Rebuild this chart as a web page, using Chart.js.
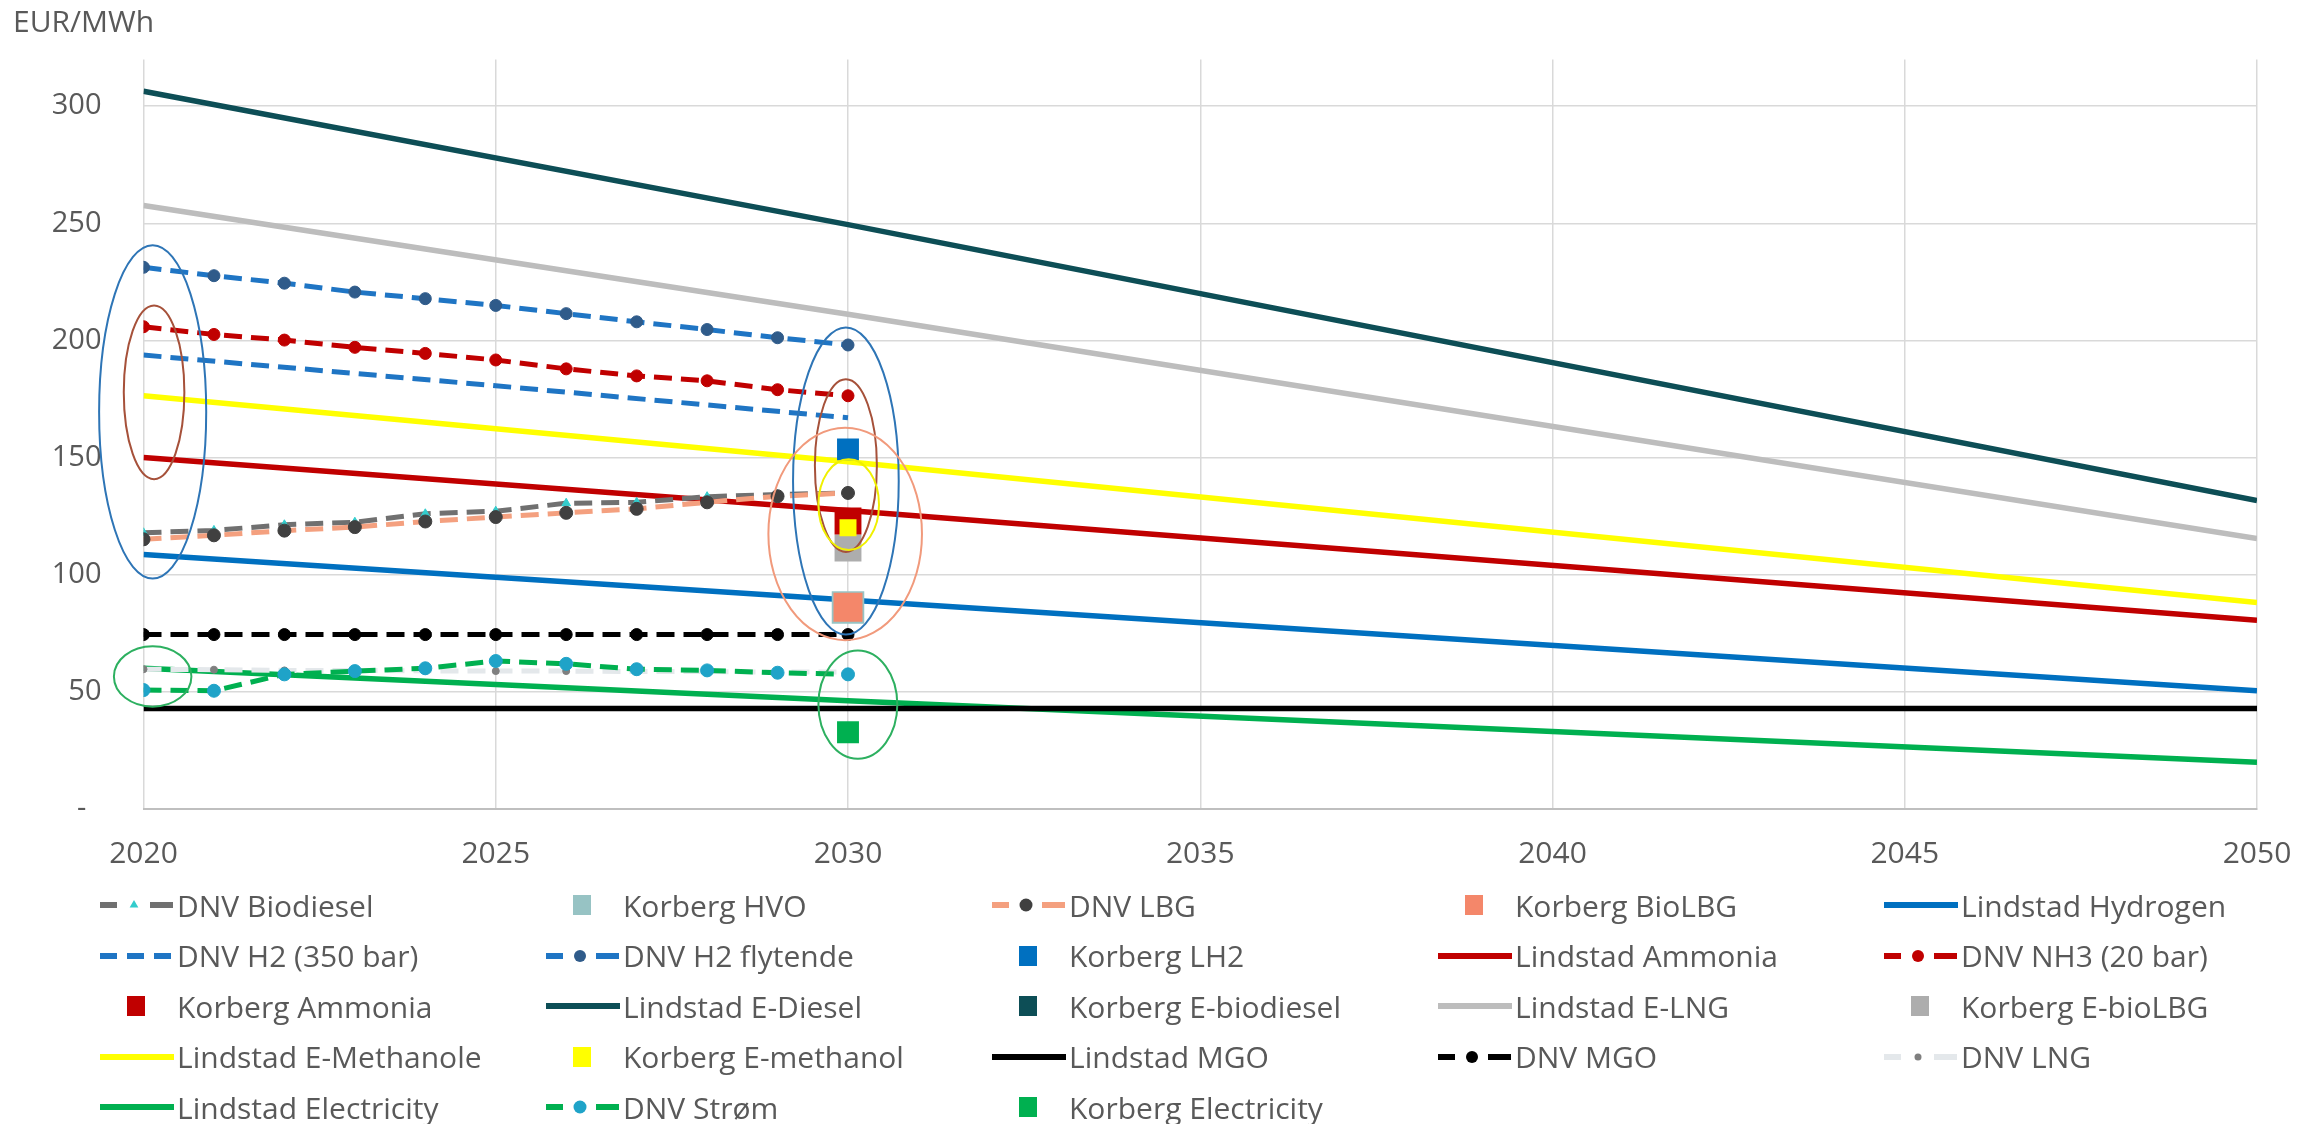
<!DOCTYPE html>
<html><head><meta charset="utf-8">
<script src="https://cdn.jsdelivr.net/npm/chart.js@4/dist/chart.umd.min.js"></script>
<style>
html,body{margin:0;padding:0;background:#fff;}
#wrap{position:relative;width:2320px;height:1124px;overflow:hidden;background:#fff;}
#c{position:absolute;left:0;top:0;}
#unit{position:absolute;left:13px;top:1px;font-family:'Open Sans';font-size:30px;color:#595959;line-height:40px;}
#legend{position:absolute;left:0;top:0;width:2320px;height:1124px;pointer-events:none;}
.li{position:absolute;height:44px;display:flex;align-items:center;font-family:'Open Sans';font-size:30px;color:#595959;white-space:nowrap;}
.li canvas{display:block;margin-right:2px;}
</style></head>
<body>
<div id="wrap">
  <canvas id="c" width="2320" height="1124"></canvas>
  <div id="unit">EUR/MWh</div>
  <div id="legend"></div>
</div>
<script>
// ---------- categories / ticks ----------
const dnvYears = [2020, 2021, 2022, 2023, 2024, 2025, 2026, 2027, 2028, 2029, 2030];
const dnvH2350Years = [2020, 2025, 2030];
const lindstadYears = [2020, 2030, 2050];
const korbergYear = 2030;
const xTickValues = [2020, 2025, 2030, 2035, 2040, 2045, 2050];
const yTickValues = [0, 50, 100, 150, 200, 250, 300];

// ---------- Lindstad (EUR/MWh) ----------
const lindstadHydrogen    = [108.5, 89.1, 50.3];
const lindstadAmmonia     = [149.9, 127.3, 80.4];
const lindstadEDiesel     = [306.4, 249.4, 131.6];
const lindstadELNG        = [257.6, 211.1, 115.3];
const lindstadEMethanole  = [176.3, 148.1, 88.0];
const lindstadMGO         = [42.7, 42.7, 42.7];
const lindstadElectricity = [59.9, 46.0, 19.8];

// ---------- DNV (EUR/MWh) ----------
const dnvBiodiesel  = [117.8, 118.8, 121.2, 122.3, 125.9, 127.0, 130.4, 130.8, 133.2, 134.1, 134.8];
const dnvLBG        = [115.0, 116.7, 118.7, 120.2, 122.6, 124.5, 126.3, 128.0, 130.8, 133.4, 134.8];
const dnvH2350      = [193.7, 180.6, 166.9];
const dnvH2Flytende = [231.2, 227.6, 224.4, 220.6, 217.8, 214.9, 211.4, 207.9, 204.6, 201.1, 198.0];
const dnvNH3        = [205.8, 202.5, 200.1, 197.0, 194.4, 191.6, 187.8, 184.8, 182.7, 178.9, 176.3];
const dnvMGO        = [74.3, 74.3, 74.3, 74.3, 74.3, 74.3, 74.3, 74.3, 74.3, 74.3, 74.3];
const dnvLNG        = [59.5, 59.3, 59.0, 59.0, 58.8, 58.7, 58.7, 58.5, 58.5, 58.3, 58.3];
const dnvStrom      = [50.6, 50.3, 57.3, 58.7, 59.9, 63.0, 61.8, 59.5, 59.0, 58.0, 57.3];

// ---------- Korberg 2030 (EUR/MWh) ----------
const korbergHVO         = 85.9;
const korbergBioLBG      = 86.0;
const korbergLH2         = 153.4;
const korbergAmmonia     = 122.8;
const korbergEBiodiesel  = 111.3;
const korbergEBioLBG     = 111.3;
const korbergEMethanol   = 119.9;
const korbergElectricity = 32.6;

// ---------- highlight rings (data units) ----------
const highlightRings = [
  {year: 2020.13, value: 169.4, rx: 0.76, ry: 71.2, color: '#2E75B6'},
  {year: 2020.15, value: 177.8, rx: 0.43, ry: 37.1, color: '#A6513A'},
  {year: 2020.13, value: 56.4,  rx: 0.55, ry: 12.9, color: '#2DB060'},
  {year: 2029.97, value: 139.9, rx: 0.75, ry: 65.6, color: '#2E75B6'},
  {year: 2029.97, value: 146.5, rx: 0.44, ry: 36.9, color: '#A6513A'},
  {year: 2029.96, value: 117.3, rx: 1.09, ry: 45.4, color: '#F19A7C'},
  {year: 2030.01, value: 129.8, rx: 0.43, ry: 19.4, color: '#F0F000'},
  {year: 2030.14, value: 44.4,  rx: 0.56, ry: 23.1, color: '#2DB060'}
];

const legendRows = [
  ['DNV Biodiesel', 'Korberg HVO', 'DNV LBG', 'Korberg BioLBG', 'Lindstad Hydrogen'],
  ['DNV H2 (350 bar)', 'DNV H2 flytende', 'Korberg LH2', 'Lindstad Ammonia', 'DNV NH3 (20 bar)'],
  ['Korberg Ammonia', 'Lindstad E-Diesel', 'Korberg E-biodiesel', 'Lindstad E-LNG', 'Korberg E-bioLBG'],
  ['Lindstad E-Methanole', 'Korberg E-methanol', 'Lindstad MGO', 'DNV MGO', 'DNV LNG'],
  ['Lindstad Electricity', 'DNV Strøm', 'Korberg Electricity']
];

// ---------- dataset builders ----------
const pts = (xs, ys) => xs.map((x, i) => ({x: x, y: ys[i]}));

function lindstad(label, ys, color) {
  return {label, data: pts(lindstadYears, ys), borderColor: color, backgroundColor: color,
    borderWidth: 5.5, pointRadius: 0, pointHoverRadius: 0, order: 30, legendKind: 'line'};
}
function dnv(label, xs, ys, color, markerColor, markerStyle, markerRadius, order) {
  return {label, data: pts(xs, ys), borderColor: color, backgroundColor: markerColor,
    borderWidth: 5, borderDash: [18, 9], borderCapStyle: 'butt',
    pointStyle: markerStyle || 'circle', pointRadius: markerRadius, pointHoverRadius: markerRadius,
    pointBorderColor: markerColor, pointBackgroundColor: markerColor, pointBorderWidth: 1,
    order: order || 20, legendKind: markerRadius > 0 ? 'dashMarker' : 'dash'};
}
function korberg(label, y, color, radius, order) {
  return {label, data: [{x: korbergYear, y: y}], showLine: false, pointStyle: 'rect',
    pointRadius: radius, pointHoverRadius: radius, backgroundColor: color, borderColor: color,
    pointBackgroundColor: color, pointBorderColor: color, pointBorderWidth: 0,
    order: order, legendKind: 'square'};
}

const datasets = [
  lindstad('Lindstad E-Diesel', lindstadEDiesel, '#0D4E56'),
  lindstad('Lindstad E-LNG', lindstadELNG, '#BDBDBD'),
  lindstad('Lindstad E-Methanole', lindstadEMethanole, '#FFFF00'),
  lindstad('Lindstad Ammonia', lindstadAmmonia, '#C00000'),
  lindstad('Lindstad Hydrogen', lindstadHydrogen, '#0070C0'),
  lindstad('Lindstad MGO', lindstadMGO, '#000000'),
  lindstad('Lindstad Electricity', lindstadElectricity, '#00B050'),

  dnv('DNV LNG', dnvYears, dnvLNG, '#E4E8EB', '#7F7F7F', 'circle', 3.5, 26),
  dnv('DNV Biodiesel', dnvYears, dnvBiodiesel, '#707070', '#33CCCC', 'triangle', 5, 22),
  dnv('DNV LBG', dnvYears, dnvLBG, '#F4A07F', '#404040', 'circle', 6.5, 21),
  dnv('DNV H2 (350 bar)', dnvH2350Years, dnvH2350, '#1F75C4', '#1F75C4', 'circle', 0, 20),
  dnv('DNV H2 flytende', dnvYears, dnvH2Flytende, '#1F75C4', '#2F5B8A', 'circle', 6, 20),
  dnv('DNV NH3 (20 bar)', dnvYears, dnvNH3, '#C00000', '#C00000', 'circle', 6, 20),
  dnv('DNV MGO', dnvYears, dnvMGO, '#000000', '#000000', 'circle', 6, 20),
  dnv('DNV Strøm', dnvYears, dnvStrom, '#00B050', '#1FA3C8', 'circle', 6.5, 20),

  korberg('Korberg HVO', korbergHVO, '#97C3C4', 23, 9),
  korberg('Korberg BioLBG', korbergBioLBG, '#F4876A', 20.5, 8),
  korberg('Korberg E-biodiesel', korbergEBiodiesel, '#0D4E56', 18, 7),
  korberg('Korberg E-bioLBG', korbergEBioLBG, '#ADADAD', 19, 6),
  korberg('Korberg Ammonia', korbergAmmonia, '#C00000', 19, 5),
  korberg('Korberg E-methanol', korbergEMethanol, '#FFFF00', 12, 4),
  korberg('Korberg LH2', korbergLH2, '#0070C0', 15.5, 3),
  korberg('Korberg Electricity', korbergElectricity, '#00B050', 15.5, 3)
];

const ringPlugin = {
  id: 'rings',
  afterDatasetsDraw(chart) {
    const {ctx, scales: {x, y}} = chart;
    ctx.save();
    highlightRings.forEach(r => {
      const cx = x.getPixelForValue(r.year);
      const cy = y.getPixelForValue(r.value);
      const rx = Math.abs(x.getPixelForValue(r.year + r.rx) - cx);
      const ry = Math.abs(y.getPixelForValue(r.value + r.ry) - cy);
      ctx.beginPath();
      ctx.ellipse(cx, cy, rx, ry, 0, 0, Math.PI * 2);
      ctx.strokeStyle = r.color;
      ctx.lineWidth = 2;
      ctx.stroke();
    });
    ctx.restore();
  }
};

function drawMarker(ctx, style, x, y, r, color) {
  ctx.fillStyle = color;
  ctx.beginPath();
  if (style === 'triangle') {
    ctx.moveTo(x, y - r); ctx.lineTo(x + r * 0.87, y + r * 0.5); ctx.lineTo(x - r * 0.87, y + r * 0.5); ctx.closePath();
  } else {
    ctx.arc(x, y, r, 0, Math.PI * 2);
  }
  ctx.fill();
}

function buildLegend(chart) {
  const host = document.getElementById('legend');
  const byLabel = {};
  chart.data.datasets.forEach(d => { byLabel[d.label] = d; });
  legendRows.forEach((row, ri) => {
    row.forEach((label, ci) => {
      const d = byLabel[label];
      const textStart = 177 + ci * 446;
      const cy = 905 + ri * 50.5;
      const item = document.createElement('div');
      item.className = 'li';
      item.style.left = (textStart - 80) + 'px';
      item.style.top = (cy - 22) + 'px';
      const cv = document.createElement('canvas');
      cv.width = 78; cv.height = 30;
      const g = cv.getContext('2d');
      const col = d.borderColor;
      if (d.legendKind === 'line') {
        g.strokeStyle = col; g.lineWidth = 6;
        g.beginPath(); g.moveTo(3, 15); g.lineTo(77, 15); g.stroke();
      } else if (d.legendKind === 'dash') {
        g.strokeStyle = col; g.lineWidth = 6;
        [[3, 20], [30, 47], [57, 74]].forEach(s => { g.beginPath(); g.moveTo(s[0], 15); g.lineTo(s[1], 15); g.stroke(); });
      } else if (d.legendKind === 'dashMarker') {
        g.strokeStyle = col; g.lineWidth = 6;
        [[3, 20], [53, 76]].forEach(s => { g.beginPath(); g.moveTo(s[0], 15); g.lineTo(s[1], 15); g.stroke(); });
        drawMarker(g, d.pointStyle, 37, 15, Math.min(d.pointRadius, 6.5), d.pointBackgroundColor);
      } else {
        g.fillStyle = d.backgroundColor;
        g.fillRect(30, 5, 18, 20);
      }
      item.appendChild(cv);
      const t = document.createElement('span');
      t.textContent = label;
      item.appendChild(t);
      host.appendChild(item);
    });
  });
}

function render() {
  Chart.defaults.font.family = "'Open Sans'";
  Chart.defaults.font.size = 29;
  Chart.defaults.color = '#595959';
  const chart = new Chart(document.getElementById('c'), {
    type: 'line',
    data: {datasets: datasets},
    options: {
      responsive: false,
      animation: false,
      events: [],
      parsing: true,
      layout: {padding: {left: 0, right: 63, top: 50, bottom: 235.5}},
      plugins: {legend: {display: false}, tooltip: {enabled: false}, title: {display: false}},
      elements: {line: {tension: 0}},
      scales: {
        x: {
          type: 'linear', min: 2020, max: 2050,
          afterBuildTicks: a => { a.ticks = xTickValues.map(v => ({value: v})); },
          afterFit: s => { s.height = 80; },
          ticks: {padding: 28, color: '#595959', font: {size: 30}, maxRotation: 0, autoSkip: false,
                  callback: v => String(v)},
          grid: {color: '#D9D9D9', lineWidth: 1.5, drawTicks: false},
          border: {color: '#BFBFBF', width: 2}
        },
        y: {
          type: 'linear', min: 0, max: 320,
          afterBuildTicks: a => { a.ticks = yTickValues.map(v => ({value: v})); },
          afterFit: s => { s.width = 143.5; },
          ticks: {padding: 42, color: '#595959', font: {size: 29},
                  callback: v => v === 0 ? '-  ' : String(v)},
          grid: {color: '#D9D9D9', lineWidth: 1.5, drawTicks: false},
          border: {display: false}
        }
      }
    },
    plugins: [ringPlugin]
  });
  buildLegend(chart);
}

if (document.fonts && document.fonts.load) {
  Promise.all([document.fonts.load("29px 'Open Sans'"), document.fonts.load("30px 'Open Sans'")])
    .then(render, render);
} else {
  render();
}
</script>
</body></html>
